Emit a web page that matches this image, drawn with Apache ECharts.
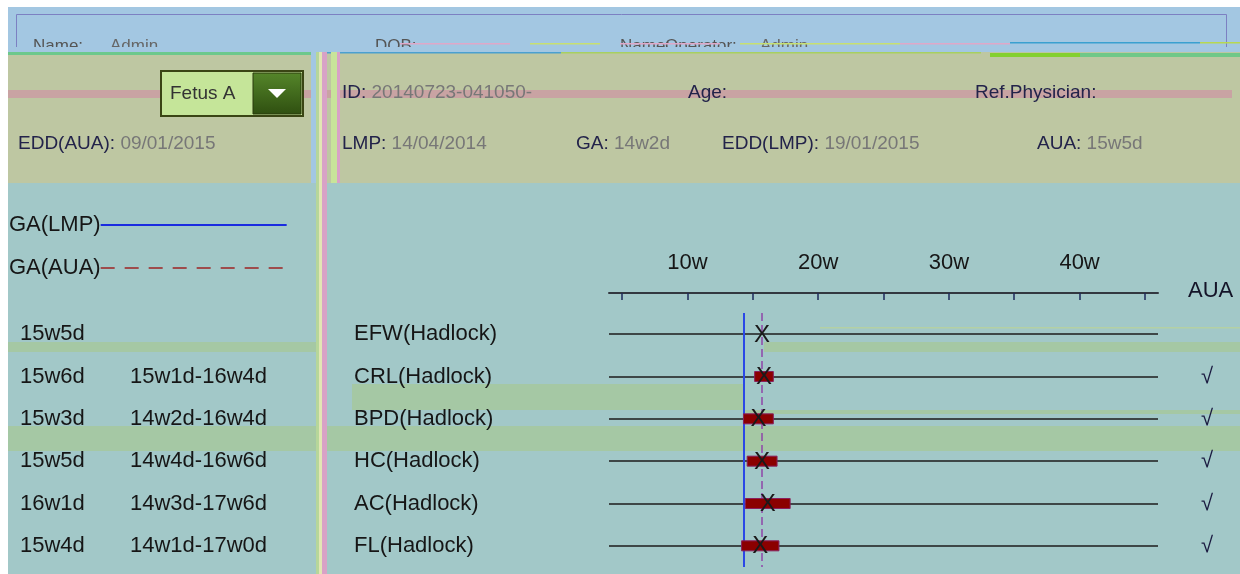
<!DOCTYPE html>
<html>
<head>
<meta charset="utf-8">
<script src="https://cdn.jsdelivr.net/npm/echarts@6/dist/echarts.min.js"></script>
<style>
  html, body { margin: 0; padding: 0; background: #ffffff; }
  #chart { width: 1240px; height: 574px; }
</style>
</head>
<body>
<div id="chart"></div>
<script>
// Biometry rows (Hadlock formulas)
const categories = ['EFW(Hadlock)', 'CRL(Hadlock)', 'BPD(Hadlock)', 'HC(Hadlock)', 'AC(Hadlock)', 'FL(Hadlock)'];
// Gestational age for each measurement
const gaValues = ['15w5d', '15w6d', '15w3d', '15w5d', '16w1d', '15w4d'];
// Normal range for each measurement ('' = no range)
const gaRanges = ['', '15w1d-16w4d', '14w2d-16w4d', '14w4d-16w6d', '14w3d-17w6d', '14w1d-17w0d'];
// Included in AUA
const auaChecks = ['', '√', '√', '√', '√', '√'];
// Week scale ticks and labels
const tickWeeks = [5, 10, 15, 20, 25, 30, 35, 40, 45];
const labelWeeks = [10, 20, 30, 40];
// Reference ages
const gaLmp = '14w2d';
const gaAua = '15w5d';

const FONT = '"Liberation Sans", Arial, sans-serif';

function weeks(s) {
  const m = /(\d+)w(\d+)d/.exec(s);
  return Number(m[1]) + Number(m[2]) / 7;
}

const markerData = gaValues.map((g, i) => [weeks(g), i]);
const rangeData = [];
gaRanges.forEach((r, i) => {
  if (!r) return;
  const [lo, hi] = r.split('-');
  rangeData.push([weeks(lo), weeks(hi), i]);
});

// ---------- page furniture (panels, header fields, selector) ----------
const C_BLUE = '#a3c7e2', C_OLIVE = '#bec7a2', C_TEAL = '#a2c8c8', C_GREEN = '#a5c8a4', C_PINK = '#d8a2c6';

function rect(x, y, w, h, fill, z) {
  return { type: 'rect', z: z, silent: true, shape: { x, y, width: w, height: h }, style: { fill } };
}
function txt(x, y, text, opts) {
  opts = opts || {};
  return {
    type: 'text', z: opts.z != null ? opts.z : -4, silent: true, x, y,
    style: {
      text, font: (opts.size || 19) + 'px ' + FONT, fill: opts.color || '#1c1c1c',
      verticalAlign: 'middle', rich: opts.rich
    }
  };
}
function pair(x, y, label, value) {
  return txt(x, y, '{a|' + label + '}{b|' + value + '}', {
    rich: {
      a: { font: '19px ' + FONT, fill: '#23234a' },
      b: { font: '19px ' + FONT, fill: '#777777' }
    }
  });
}

const graphics = [
  // top patient bar
  rect(8, 7, 1232, 46, C_BLUE, -20),
  { type: 'rect', z: -19, silent: true, shape: { x: 16.5, y: 14.5, width: 1210, height: 60 }, style: { fill: 'none', stroke: '#7c80c2', lineWidth: 1 } },
  txt(33, 46, 'Name:', { size: 17, color: '#555', z: -18 }),
  txt(110, 46, 'Admin', { size: 17, color: '#666', z: -18 }),
  txt(375, 46, 'DOB:', { size: 17, color: '#555', z: -18 }),
  txt(620, 46, 'Name:', { size: 17, color: '#555', z: -18 }),
  txt(665, 46, 'Operator:', { size: 17, color: '#555', z: -18 }),
  txt(760, 46, 'Admin', { size: 17, color: '#666', z: -18 }),
  rect(8, 47, 1232, 5, C_BLUE, -17),
  rect(400, 43, 110, 1.5, '#e0a8c8', -17),
  rect(530, 43, 70, 1.5, '#c8e070', -17),
  rect(620, 43, 100, 1.5, '#e0a8c8', -17),
  rect(740, 43, 160, 1.5, '#c8e070', -17),
  rect(900, 43, 110, 1.5, '#e0a8c8', -17),
  rect(1010, 42, 190, 1.5, '#3aa0d0', -17),
  rect(1200, 42, 40, 1.5, '#b8d850', -17),

  // info panel
  rect(8, 52, 1232, 131, C_OLIVE, -16),
  rect(8, 52, 303, 3, '#6cc88c', -15),
  rect(311, 52, 250, 1.5, '#4aa0d0', -15),
  rect(561, 52, 420, 1.5, '#a8d060', -15),
  rect(990, 53, 90, 4, '#84d030', -15),
  rect(1080, 53, 160, 4, '#70c888', -15),
  rect(8, 90, 1224, 8, '#c9a3a3', -15),

  // column divider
  rect(311, 52, 6, 131, C_BLUE, -14),
  rect(316, 52, 3, 522, '#b6d69a', -14),
  rect(319, 52, 3, 522, '#e2e6b4', -14),
  rect(322, 52, 5, 522, C_PINK, -14),
  rect(331, 52, 6, 131, '#c8e49a', -14),
  rect(337, 52, 3, 131, C_PINK, -14),

  // chart area
  rect(8, 183, 308, 391, C_TEAL, -16),
  rect(327, 183, 913, 391, C_TEAL, -16),
  rect(8, 342, 308, 10, C_GREEN, -15),
  rect(764, 342, 476, 10, C_GREEN, -15),
  rect(820, 327, 420, 1.5, '#b4d0a4', -15),
  rect(352, 384, 393, 26, C_GREEN, -15),
  rect(745, 410, 495, 4, C_GREEN, -15),
  rect(8, 426, 308, 25, C_GREEN, -15),
  rect(327, 426, 913, 25, C_GREEN, -15),

  // fetus selector
  { type: 'rect', z: -6, silent: true, shape: { x: 161, y: 71, width: 142, height: 45 }, style: { fill: '#c5e599', stroke: '#3a4514', lineWidth: 2 } },
  { type: 'rect', z: -5, silent: true, shape: { x: 253, y: 73, width: 48, height: 41 },
    style: { fill: new echarts.graphic.LinearGradient(0, 0, 0, 1, [{ offset: 0, color: '#55862a' }, { offset: 1, color: '#2f4f10' }]), stroke: '#2a3a0c', lineWidth: 1 } },
  { type: 'polygon', z: -4, silent: true, shape: { points: [[268, 89], [286, 89], [277, 98]] }, style: { fill: '#ffffff' } },
  txt(170, 94, 'Fetus A', { size: 19, color: '#333333' }),

  // info fields
  pair(342, 93, 'ID: ', '20140723-041050-'),
  pair(688, 93, 'Age:', ''),
  pair(975, 93, 'Ref.Physician:', ''),
  pair(18, 144, 'EDD(AUA): ', '09/01/2015'),
  pair(342, 144, 'LMP: ', '14/04/2014'),
  pair(576, 144, 'GA: ', '14w2d'),
  pair(722, 144, 'EDD(LMP): ', '19/01/2015'),
  pair(1037, 144, 'AUA: ', '15w5d'),

  // AUA column header
  txt(1188, 291, 'AUA', { size: 22, color: '#141428', z: 5 })
];

// ---------- chart ----------
const chart = echarts.init(document.getElementById('chart'), null, { renderer: 'canvas' });

function labelAxis(formatter, margin) {
  return {
    type: 'category', data: categories, inverse: true, position: 'left',
    axisLine: { show: false }, axisTick: { show: false }, splitLine: { show: false },
    axisLabel: { interval: 0, align: 'left', margin: margin, fontSize: 22, color: '#161616', fontFamily: FONT, formatter: formatter }
  };
}

chart.setOption({
  animation: false,
  backgroundColor: '#ffffff',
  textStyle: { fontFamily: FONT },
  graphic: { elements: graphics },
  legend: {
    data: ['GA(LMP)', 'GA(AUA)'],
    orient: 'vertical', left: 4, top: 208, align: 'right',
    itemWidth: 186, itemHeight: 14, itemGap: 19, selectedMode: false,
    itemStyle: { opacity: 0 },
    textStyle: { fontSize: 22, color: '#161616', fontFamily: FONT, lineHeight: 24, padding: [0, -5, 0, 0] }
  },
  grid: { left: 609, right: 82, top: 313, bottom: 7 },
  xAxis: {
    type: 'value', min: 4, max: 46, position: 'top', offset: 20,
    axisLine: { show: true, lineStyle: { color: '#333840', width: 2 } },
    axisTick: { show: true, inside: true, length: 7, customValues: tickWeeks, lineStyle: { color: '#1e2a5a', width: 1.5 } },
    axisLabel: { customValues: labelWeeks, formatter: v => v + 'w', fontSize: 22, color: '#161616', margin: 19, fontFamily: FONT },
    splitLine: { show: false }
  },
  yAxis: [
    labelAxis((v) => v, 255),
    labelAxis((v, i) => gaValues[i], 589),
    labelAxis((v, i) => gaRanges[i], 479),
    {
      type: 'category', data: categories, inverse: true, position: 'right',
      axisLine: { show: false }, axisTick: { show: false }, splitLine: { show: false },
      axisLabel: { interval: 0, margin: 43, fontSize: 22, color: '#1a1a40', fontFamily: FONT, formatter: (v, i) => auaChecks[i] }
    }
  ],
  series: [
    {
      // row guide lines
      name: 'rows', type: 'line', data: [], z: 1,
      markLine: {
        silent: true, symbol: 'none', label: { show: false },
        lineStyle: { color: '#1c1c1c', width: 1.5, type: 'solid' },
        data: categories.map(c => ({ yAxis: c }))
      }
    },
    {
      name: 'GA(LMP)', type: 'line', data: [], symbol: 'none', z: 4,
      color: '#1a2ce0', lineStyle: { color: '#1a2ce0', width: 1.5 },
      markLine: {
        silent: true, symbol: 'none', label: { show: false },
        lineStyle: { color: '#2b48e6', width: 2, type: 'solid' },
        data: [{ xAxis: weeks(gaLmp) }]
      }
    },
    {
      name: 'GA(AUA)', type: 'line', data: [], symbol: 'none', z: 4,
      color: '#9e4c4c', lineStyle: { color: '#9e4c4c', width: 2, type: [14, 10] },
      markLine: {
        silent: true, symbol: 'none', label: { show: false },
        lineStyle: { color: '#8e46a8', width: 1.5, type: [8, 4] },
        data: [{ xAxis: weeks(gaAua) }]
      }
    },
    {
      name: 'range', type: 'custom', data: rangeData, z: 5,
      encode: { x: [0, 1], y: 2 },
      renderItem: function (params, api) {
        const p0 = api.coord([api.value(0), api.value(2)]);
        const p1 = api.coord([api.value(1), api.value(2)]);
        const h = 10;
        return {
          type: 'rect',
          shape: { x: p0[0], y: p0[1] - h / 2, width: p1[0] - p0[0], height: h },
          style: { fill: '#8b0000', stroke: '#8a1f5c', lineWidth: 1 }
        };
      }
    },
    {
      name: 'GA', type: 'custom', data: markerData, z: 6,
      encode: { x: 0, y: 1 },
      renderItem: function (params, api) {
        const p = api.coord([api.value(0), api.value(1)]);
        return {
          type: 'text', x: p[0], y: p[1] + 1,
          style: { text: 'X', font: '24px ' + FONT, fill: '#1a1a1a', align: 'center', verticalAlign: 'middle' }
        };
      }
    }
  ]
});
</script>
</body>
</html>
